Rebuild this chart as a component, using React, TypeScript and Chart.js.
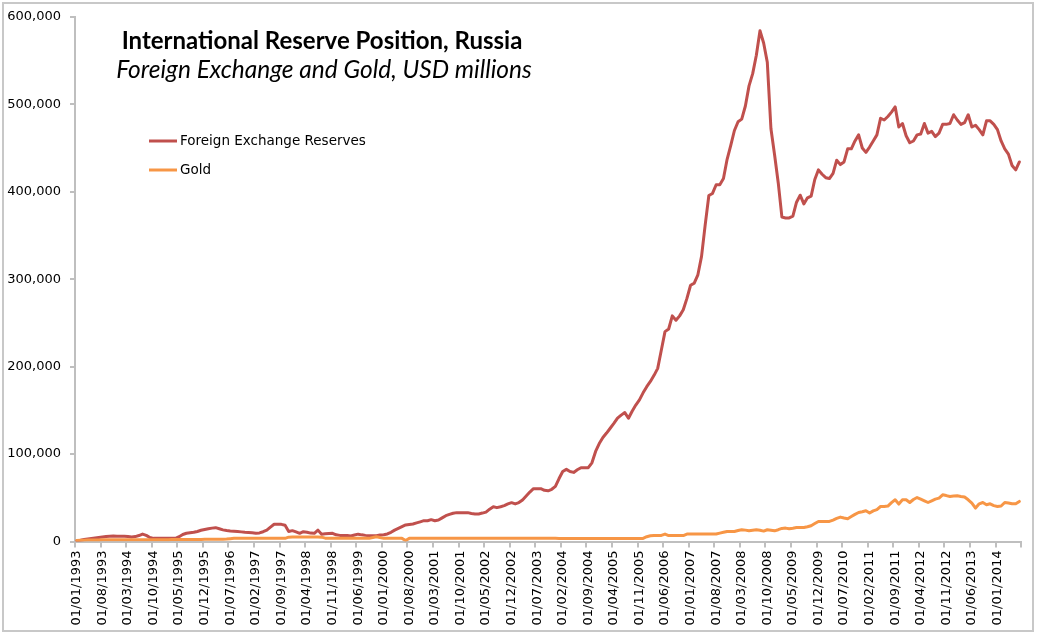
import React, { useEffect, useRef } from "react";
import { Chart, registerables } from "chart.js";

Chart.register(...registerables);

const START_YEAR = 1993;

// Foreign exchange reserves, USD millions, monthly from Jan 1993
const fxReserves = [
  1000, 1500, 2200, 2800, 3400, 4000, 4600, 5200, 5700, 6000, 6200, 6100, // 1993
  6000, 6000, 5800, 5200, 5600, 6800, 8500, 7000, 4500, 3600, 3600, 3600, // 1994
  3600, 3600, 3600, 3700, 5500, 8000, 9400, 10000, 10500, 11500, 12800, 13800, // 1995
  14600, 15300, 15800, 14600, 13300, 12500, 12000, 11700, 11400, 11000, 10600, 10300, // 1996
  10000, 9500, 9800, 11200, 13000, 16500, 19700, 19700, 19600, 18600, 11500, 12400, // 1997
  11000, 9400, 11200, 10600, 9600, 9400, 13000, 8200, 8800, 9200, 9400, 7600, // 1998
  7000, 7000, 7000, 6300, 7500, 8400, 7600, 7000, 6600, 6600, 6600, 7400, // 1999
  7800, 8600, 10500, 13000, 15000, 17000, 18900, 19500, 20000, 21300, 22500, 23800, // 2000
  23800, 25000, 23800, 24500, 27000, 29500, 31000, 32300, 33000, 33000, 33000, 33000, // 2001
  32000, 31500, 31500, 32500, 33600, 37000, 39800, 38700, 39800, 41000, 43000, 44400, // 2002
  43000, 44500, 47500, 52000, 56500, 60400, 60400, 60400, 58500, 58000, 59700, 63000, // 2003
  72000, 80000, 82500, 80000, 79000, 82000, 84400, 84400, 84400, 90000, 103000, 112000, // 2004
  119000, 124000, 129500, 135000, 141000, 144500, 147400, 141000, 149000, 156000, 162000, 170000, // 2005
  177000, 183000, 190000, 198000, 219000, 240000, 243000, 258000, 253000, 258000, 265000, 278000, // 2006
  293000, 295400, 305000, 326000, 362000, 395600, 398000, 408000, 408000, 415000, 437000, 453000, // 2007
  470000, 480000, 483000, 498000, 521000, 535000, 556000, 584000, 570000, 548000, 472000, 442000, // 2008
  410000, 371000, 370000, 370000, 372000, 388000, 396000, 386000, 393000, 395000, 414000, 425000, // 2009
  420000, 416000, 415000, 421000, 436000, 431000, 434000, 449000, 449000, 458000, 465000, 450000, // 2010
  445000, 451000, 458000, 465000, 484000, 482000, 486000, 491000, 497000, 474000, 478000, 464000, // 2011
  456000, 458000, 465000, 466000, 478000, 467000, 469000, 463000, 467000, 477000, 477000, 478000, // 2012
  488000, 482000, 477000, 479000, 488000, 474000, 476000, 471000, 465000, 481000, 481000, 477000, // 2013
  471000, 458000, 449000, 443000, 430000, 425000, 434000, // 2014
];

// Gold, USD millions, monthly from Jan 1993
const gold = [
  1200, 1400, 1500, 1600, 1700, 1800, 1800, 1900, 1900, 2000, 2000, 2000, // 1993
  2000, 2000, 2000, 2000, 2000, 2000, 2000, 2000, 2000, 2100, 2100, 2100, // 1994
  2100, 2100, 2200, 2200, 2200, 2300, 2300, 2300, 2400, 2400, 2400, 2500, // 1995
  2500, 2500, 2600, 2600, 2700, 2800, 3200, 3600, 3600, 3600, 3600, 3600, // 1996
  3600, 3600, 3600, 3600, 3600, 3600, 3600, 3600, 3600, 3600, 5000, 5100, // 1997
  5100, 5100, 5100, 5100, 5100, 5100, 5100, 5000, 3800, 3600, 3600, 3600, // 1998
  3600, 3600, 3600, 3600, 3600, 3600, 3600, 3600, 3600, 4500, 5500, 4500, // 1999
  3600, 3600, 3600, 3600, 3600, 3600, 1200, 3600, 3600, 3600, 3600, 3600, // 2000
  3600, 3600, 3600, 3600, 3600, 3600, 3600, 3600, 3600, 3600, 3600, 3600, // 2001
  3600, 3600, 3600, 3600, 3600, 3600, 3600, 3600, 3600, 3600, 3600, 3600, // 2002
  3600, 3600, 3600, 3600, 3600, 3600, 3600, 3600, 3600, 3600, 3600, 3600, // 2003
  3500, 3500, 3500, 3500, 3500, 3500, 3500, 3500, 3500, 3500, 3500, 3500, // 2004
  3500, 3500, 3500, 3500, 3500, 3500, 3500, 3500, 3500, 3500, 3500, 3500, // 2005
  5500, 6600, 6800, 6800, 7000, 8500, 6800, 6800, 6800, 6800, 6800, 8500, // 2006
  8500, 8500, 8500, 8500, 8500, 8500, 8500, 8500, 9600, 10500, 11400, 11400, // 2007
  11400, 12500, 13400, 13000, 12200, 12800, 13400, 12800, 11900, 13400, 12800, 12200, // 2008
  13500, 15000, 15300, 14500, 15200, 16000, 16000, 16000, 16800, 18000, 20500, 22900, // 2009
  22900, 22900, 23000, 24500, 26500, 27900, 26800, 26000, 28500, 31000, 33200, 34000, // 2010
  35100, 32500, 35000, 36500, 40000, 40000, 40500, 44500, 47700, 42800, 47700, 47700, // 2011
  44600, 48000, 50300, 48500, 46500, 44600, 46500, 48500, 49600, 53400, 52500, 51500, // 2012
  52000, 52300, 51500, 50800, 47700, 43900, 38200, 43100, 44600, 42000, 43100, 41000, // 2013
  40000, 40600, 44600, 44000, 43100, 43100, 45800, // 2014
];

// category labels: first day of each month, dd/mm/yyyy
const months = fxReserves.map((_, i) => {
  const y = START_YEAR + Math.floor(i / 12);
  const m = (i % 12) + 1;
  return `01/${m < 10 ? "0" + m : m}/${y}`;
});

const LABEL_EVERY = 7;
const TITLE = "International Reserve Position, Russia";
const SUBTITLE = "Foreign Exchange and Gold, USD millions";
const RED = "#C0504D";
const ORANGE = "#F79646";
const AXIS = "#bfbfbf";
const TICK_FONT = { family: "'DejaVu Sans', Verdana, sans-serif", size: 13 };

const overlay = {
  id: "overlay",
  afterDraw(chart: Chart) {
    const c = chart.ctx;
    c.save();
    c.fillStyle = "#000";
    c.textAlign = "center";
    c.textBaseline = "alphabetic";
    c.font = "bold 24px Lato, sans-serif";
    c.fillText(TITLE, 322, 49);
    c.font = "italic 24.5px Lato, sans-serif";
    c.fillText(SUBTITLE, 324, 78);

    // legend
    const items = [
      { label: "Foreign Exchange Reserves", color: RED, y: 141 },
      { label: "Gold", color: ORANGE, y: 170 },
    ];
    c.textAlign = "left";
    c.textBaseline = "middle";
    c.font = "13.5px 'DejaVu Sans', Verdana, sans-serif";
    items.forEach((it) => {
      c.strokeStyle = it.color;
      c.lineWidth = 3;
      c.beginPath();
      c.moveTo(149, it.y);
      c.lineTo(177, it.y);
      c.stroke();
      c.fillStyle = "#000";
      c.fillText(it.label, 180, it.y);
    });
    c.restore();
  },
};

const App: React.FC = () => {
  const canvasRef = useRef<HTMLCanvasElement | null>(null);

  useEffect(() => {
    document.body.style.margin = "0";
    const ctx = canvasRef.current?.getContext("2d");
    if (!ctx) return;

    const chart = new Chart(ctx, {
      type: "line",
      data: {
        labels: months,
        datasets: [
          {
            label: "Foreign Exchange Reserves",
            data: fxReserves,
            borderColor: RED,
            borderWidth: 3,
            pointRadius: 0,
            borderJoinStyle: "round",
            borderCapStyle: "round",
            order: 1,
          },
          {
            label: "Gold",
            data: gold,
            borderColor: ORANGE,
            borderWidth: 3,
            pointRadius: 0,
            borderJoinStyle: "round",
            borderCapStyle: "round",
            order: 0,
          },
        ],
      },
      options: {
        animation: false,
        responsive: false,
        layout: { padding: { top: 16, right: 14, left: 0, bottom: 0 } },
        plugins: {
          legend: { display: false },
          tooltip: { enabled: false },
        },
        scales: {
          x: {
            offset: true,
            grid: {
              offset: true,
              drawOnChartArea: false,
              tickLength: 6,
              lineWidth: 2,
              color: (c: any) =>
                c.index === undefined || c.index % LABEL_EVERY === 0 ? AXIS : "rgba(0,0,0,0)",
            },
            border: { color: AXIS, width: 2 },
            ticks: {
              autoSkip: false,
              minRotation: 90,
              maxRotation: 90,
              padding: 3,
              color: "#000",
              font: TICK_FONT,
              callback: (_v: any, i: number) => (i % LABEL_EVERY === 0 ? months[i] : ""),
            },
            afterFit: (s: any) => {
              s.height = 636 - 541.5;
            },
          },
          y: {
            min: 0,
            max: 600000,
            grid: { drawOnChartArea: false, tickLength: 5, lineWidth: 2, color: AXIS },
            border: { color: AXIS, width: 2 },
            ticks: {
              stepSize: 100000,
              padding: 9,
              color: "#000",
              font: TICK_FONT,
              callback: (v: any) => Number(v).toLocaleString("en-US"),
            },
            afterFit: (s: any) => {
              s.width = 75;
            },
          },
        },
      },
      plugins: [overlay],
    });

    return () => chart.destroy();
  }, []);

  return (
    <div style={{ position: "relative", width: 1038, height: 636, background: "#fff" }}>
      <canvas ref={canvasRef} width={1038} height={636} style={{ position: "absolute", left: 0, top: 0 }} />
      <div
        style={{
          position: "absolute",
          left: 2,
          top: 2,
          width: 1032,
          height: 630,
          boxSizing: "border-box",
          border: "2px solid #c8c8c8",
          pointerEvents: "none",
        }}
      />
    </div>
  );
};

export default App;
